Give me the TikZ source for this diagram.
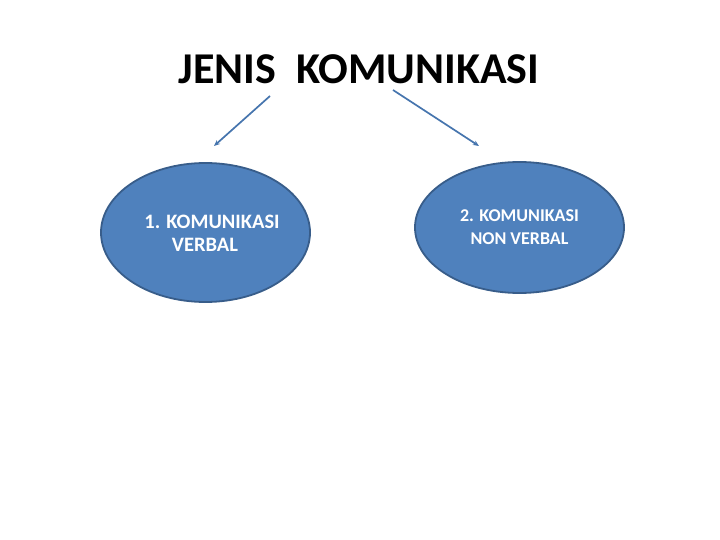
\documentclass[tikz,border=0pt]{standalone}
\usepackage{fontspec}
\setmainfont{Carlito}
\usetikzlibrary{shapes.geometric,arrows.meta}
\definecolor{obfill}{HTML}{4F81BD}
\definecolor{obline}{HTML}{385D8A}
\definecolor{arrowc}{HTML}{4675AE}
\tikzset{
  bubble/.style={ellipse, fill=obfill, draw=obline, line width=1.8pt, inner sep=0pt, text=white, align=center},
  link/.style={draw=arrowc, line width=1.7pt, -{Stealth[length=6pt,width=5pt]}},
  title/.style={font=\fontsize{44}{50}\selectfont\bfseries}
}
\begin{document}
\begin{tikzpicture}[x=1pt,y=-1pt]
\useasboundingbox[fill=white] (0,0) rectangle (720,540);
\node[title] (t) at (359,69) {JENIS\ \ KOMUNIKASI};
\node[bubble, minimum width=209pt, minimum height=139pt] (v) at (205.5,232.5) {};
\node[text=white, align=center, font=\fontsize{20.5}{23}\selectfont\bfseries] (vt) at (212,233) {1. KOMUNIKASI\\VERBAL\kern14pt\relax};
\node[bubble, minimum width=209pt, minimum height=131pt, font=\fontsize{18}{23}\selectfont\bfseries] (nv) at (519.5,227.5) {2. KOMUNIKASI\\NON VERBAL};
\coordinate (a1s) at (270,96);
\coordinate (a1e) at (214,146);
\coordinate (a2s) at (393,90);
\coordinate (a2e) at (479,146);
\draw[link] (a1s) -- (a1e);
\draw[link] (a2s) -- (a2e);
\end{tikzpicture}
\end{document}
